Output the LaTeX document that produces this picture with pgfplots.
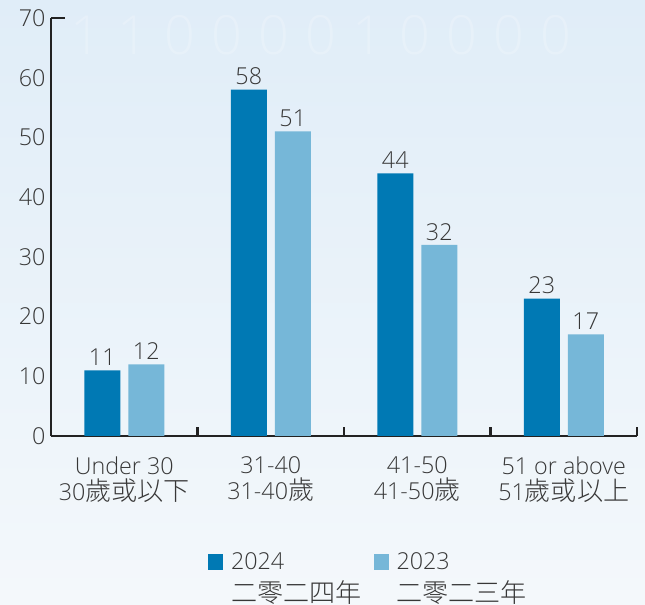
\documentclass[border=0pt]{standalone}
\usepackage{fontspec}
\setmainfont{Open Sans}[UprightFont={* Light}]
\newfontfamily\cjk[Scale=1.12, UprightFont={* Light}]{Noto Sans CJK TC}
\usepackage{pgfplots}
\pgfplotsset{compat=1.18}
\definecolor{c24}{RGB}{0,121,180}
\definecolor{c23}{RGB}{118,183,216}
\definecolor{txt}{RGB}{55,55,55}
\definecolor{axc}{RGB}{34,34,34}
\definecolor{bgtop}{RGB}{224,237,248}
\definecolor{bgbot}{RGB}{244,248,251}
\newcommand\lbl{\fontsize{23.3bp}{26bp}\selectfont}
\begin{document}
\begin{tikzpicture}
\shade[top color=bgtop, bottom color=bgbot] (0,0) rectangle (645bp,605bp);
\useasboundingbox (0,0) rectangle (645bp,605bp);
\node[anchor=west, text=white, opacity=0.2, inner sep=0pt,
  font={\fontsize{54bp}{54bp}\selectfont\addfontfeature{LetterSpace=30}}]
  at (70bp,570bp) {11000010000};
\begin{axis}[
  at={(51bp,169bp)}, anchor=south west,
  scale only axis, width=586bp, height=418bp,
  xmin=-0.5, xmax=3.5, ymin=0, ymax=70,
  axis x line=bottom, axis y line=left,
  axis line style={line width=2.5bp, color=axc, -},
  ybar=8bp, bar width=36bp,
  ytick={0,10,...,70},
  xtick={0,1,2,3},
  xticklabels={{Under 30\\30{\cjk 歲或以下}},{31-40\\31-40{\cjk 歲}},{41-50\\41-50{\cjk 歲}},{51 or above\\51{\cjk 歲或以上}}},
  major tick length=0pt,
  tick style={line width=2.5bp, color=axc},
  /pgf/number format/assume math mode=true,
  yticklabel style={font=\lbl, text=txt, xshift=-2bp},
  xticklabel style={font=\lbl, text=txt, align=center, yshift=-17bp},
  extra y ticks={70}, extra y tick labels={},
  extra y tick style={major tick length=14bp, tick align=inside},
  extra x ticks={0.5,1.5,2.5,3.5}, extra x tick labels={},
  extra x tick style={major tick length=9bp, tick align=inside},
  nodes near coords,
  every node near coord/.append style={font=\lbl, text=txt, anchor=south, yshift=1bp},
  legend columns=2,
  legend image code/.code={\fill[#1] (0bp,0bp) rectangle (15bp,16bp);},
  legend style={draw=none, fill=none, inner sep=0pt, outer sep=0pt,
    at={(axis description cs:0.268,-0.272)}, anchor=north west,
    cells={anchor=base west, inner sep=0pt},
    /tikz/every even column/.append style={column sep=10bp},
    /tikz/every odd column/.append style={column sep=6bp},
    font=\lbl, text=txt},
]
\addplot[fill=c24, draw=none] coordinates {(0,11) (1,58) (2,44) (3,23)};
\addplot[fill=c23, draw=none] coordinates {(0,12) (1,51) (2,32) (3,17)};
\legend{{\begin{tabular}[t]{@{}l@{}}2024\\[3bp]{\cjk 二零二四年}\end{tabular}},{\begin{tabular}[t]{@{}l@{}}2023\\[3bp]{\cjk 二零二三年}\end{tabular}}}
\end{axis}
\end{tikzpicture}
\end{document}
